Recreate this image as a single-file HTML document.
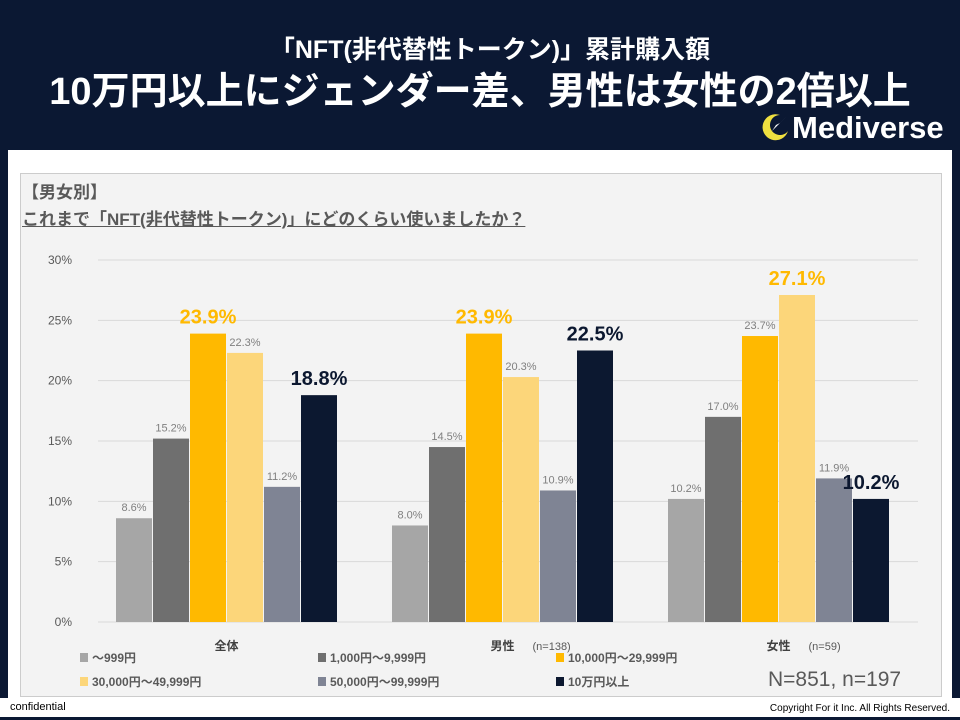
<!DOCTYPE html>
<html><head><meta charset="utf-8"><style>
body{margin:0;width:960px;height:720px;background:#0b1833;font-family:"Liberation Sans","Noto Sans CJK JP",sans-serif;overflow:hidden;position:relative}
.abs{position:absolute}
</style></head><body>
<div class="abs" style="left:0;top:0;width:960px;height:150px;background:#0b1833">
 <div class="abs" style="left:0;top:30px;width:980px;text-align:center;color:#fff;font-size:25px;font-weight:bold">「NFT(非代替性トークン)」累計購入額</div>
 <div class="abs" style="left:0;top:60px;width:960px;text-align:center;color:#fff;font-size:38px;font-weight:bold">10万円以上にジェンダー差、男性は女性の2倍以上</div>
 <div class="abs" style="left:760px;top:110px;color:#fff;font-size:31px;font-weight:bold">
  <svg width="32" height="32" viewBox="0 0 32 32" style="vertical-align:-5px"><path d="M20 4 A13 13 0 1 0 28 20 A10 10 0 1 1 20 4Z" fill="#f0e040"/><path d="M12 20 L26 6 L20 12 L16 14Z" fill="#fff"/></svg>Mediverse</div>
</div>
<div class="abs" style="left:8px;top:150px;width:944px;height:548px;background:#fff"></div>
<div class="abs" style="left:20px;top:173px;width:920px;height:522px;background:#f3f3f3;border:1px solid #ccc"></div>
<div class="abs" style="left:22px;top:178px;color:#595959;font-size:17px;font-weight:bold">【男女別】</div>
<div class="abs" style="left:22px;top:205px;color:#595959;font-size:17px;font-weight:bold;text-decoration:underline">これまで「NFT(非代替性トークン)」にどのくらい使いましたか？</div>
<svg class="abs" id="chart" style="left:0;top:0" width="960" height="720"></svg>
<div class="abs" style="left:768px;top:668px;color:#595959;font-size:21px">N=851, n=197</div>
<div class="abs" style="left:10px;top:701px;color:#000;font-size:11px;background:#fff">confidential</div>
<div class="abs" style="right:10px;top:703px;color:#000;font-size:10px">Copyright For it Inc. All Rights Reserved.</div>
<div class="abs" style="left:0;top:698px;width:960px;height:19px;background:#fff;z-index:-1"></div>
<script>
const categories=["全体","男性","女性"];
const catNotes=["","(n=138)","(n=59)"];
const seriesNames=["〜999円","1,000円〜9,999円","10,000円〜29,999円","30,000円〜49,999円","50,000円〜99,999円","10万円以上"];
const s1=[8.6,8.0,10.2];
const s2=[15.2,14.5,17.0];
const s3=[23.9,23.9,23.7];
const s4=[22.3,20.3,27.1];
const s5=[11.2,10.9,11.9];
const s6=[18.8,22.5,10.2];
const yTicks=[0,5,10,15,20,25,30];
const colors=["#a6a6a6","#6f6f6f","#ffb900","#fcd67a","#7f8494","#0c1830"];
const series=[s1,s2,s3,s4,s5,s6];
const svg=document.getElementById('chart');
const NS="http://www.w3.org/2000/svg";
const y0=622,yTop=260,ymax=30;
const y=v=>y0-(v/ymax)*(y0-yTop);
const gx=i=>116+i*276;
const bw=36,step=37;
function mk(t,a){const e=document.createElementNS(NS,t);for(const k in a)e.setAttribute(k,a[k]);svg.appendChild(e);return e;}
yTicks.forEach(t=>{
 const l=mk('line',{x1:98,x2:918,y1:y(t),y2:y(t),stroke:'#d9d9d9','stroke-width':1});
 
 
 const tx=mk('text',{x:72,y:y(t)+4,'text-anchor':'end','font-size':12,fill:'#595959'});
 tx.textContent=t+'%';
 
 
});
categories.forEach((c,ci)=>{
 let maxOrange=s3[ci]>=s4[ci]?2:3;
 series.forEach((s,si)=>{
  const x=gx(ci)+si*step, v=s[ci];
  const r=mk('rect',{x:x,y:y(v),width:bw,height:y0-y(v),fill:colors[si]});
  
  
  const big=(si===maxOrange)||si===5;
  const t=mk('text',{x:x+bw/2,y:y(v)-(big?10:7),'text-anchor':'middle','font-size':big?20:11,'font-weight':big?'bold':'normal',fill:big?(si===5?'#0c1830':'#ffb900'):'#7f7f7f'});
  t.textContent=v.toFixed(1)+'%';
  
  
 });
 const cx=gx(ci)+3*step-0.5;
 const ct=mk('text',{x:cx,y:650,'text-anchor':'middle','font-size':12,'font-weight':'bold',fill:'#404040'});
 ct.textContent=c;
 
 
 if(catNotes[ci]){const n=mk('text',{x:cx+30,y:650,'font-size':11,fill:'#595959'});n.textContent=catNotes[ci];
 
 }
});
seriesNames.forEach((nm,i)=>{
 const lx=80+(i%3)*238, ly=i<3?661:685;
 const r=mk('rect',{x:lx,y:ly-8,width:8,height:9,fill:colors[i]});
 
 
 const t=mk('text',{x:lx+12,y:ly+1,'font-size':12,'font-weight':'bold',fill:'#595959'});
 t.textContent=nm;
 
 
});
</script>
</body></html>
